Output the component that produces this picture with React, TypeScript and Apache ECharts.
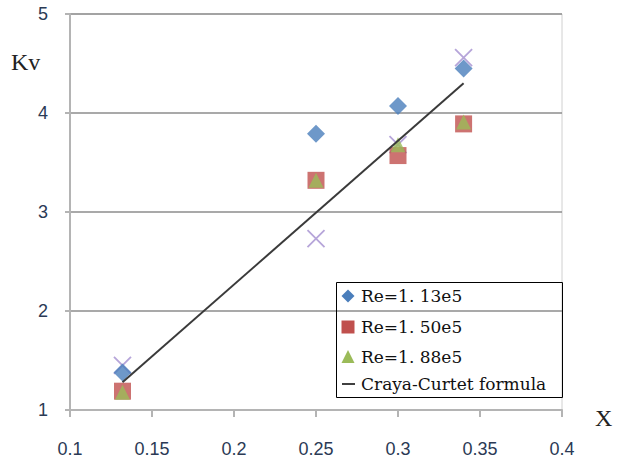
import React, { useEffect, useRef } from "react";
import * as echarts from "echarts";

const xTicks = [0.1, 0.15, 0.2, 0.25, 0.3, 0.35, 0.4];
const yTicks = [1, 2, 3, 4, 5];

const xValues = [0.132, 0.25, 0.3, 0.34];
const re113 = [1.38, 3.79, 4.07, 4.45];
const re150 = [1.19, 3.32, 3.57, 3.89];
const re188 = [1.18, 3.32, 3.68, 3.91];
const extra = [1.45, 2.73, 3.68, 4.56];
const formulaX = [0.132, 0.34];
const formulaY = [1.28, 4.3];

const names = ["Re=1. 13e5", "Re=1. 50e5", "Re=1. 88e5", "Craya-Curtet formula"];
const colors = ["#4a7ebb", "#c0504d", "#9bbb59", "#000000"];

const pair = (xs: number[], ys: number[]) => xs.map((x, i) => [x, ys[i]]);

export default function App() {
  const ref = useRef<HTMLDivElement>(null);
  useEffect(() => {
    if (!ref.current) return;
    const chart = echarts.init(ref.current, undefined, { renderer: "svg" });
    const serif = "Liberation Serif";
    const legendFont = "DejaVu Serif";
    const sans = "Liberation Sans";

    // legend drawn as graphic elements
    const lx = 348; // icon centre x
    const tx = 361; // text left
    const rowY = [296, 327, 357, 384];
    const legendGraphic: any[] = [
      {
        type: "rect",
        shape: { x: 336.5, y: 282.5, width: 226, height: 115 },
        style: { fill: "none", stroke: "#000", lineWidth: 1 },
        z: 100,
      },
      {
        type: "polygon",
        shape: { points: [[lx, rowY[0] - 6.5], [lx + 6.5, rowY[0]], [lx, rowY[0] + 6.5], [lx - 6.5, rowY[0]]] },
        style: { fill: colors[0] },
        z: 100,
      },
      {
        type: "rect",
        shape: { x: lx - 6.5, y: rowY[1] - 6.5, width: 13, height: 13 },
        style: { fill: colors[1] },
        z: 100,
      },
      {
        type: "polygon",
        shape: { points: [[lx, rowY[2] - 7], [lx + 6.5, rowY[2] + 6], [lx - 6.5, rowY[2] + 6]] },
        style: { fill: colors[2] },
        z: 100,
      },
      {
        type: "line",
        shape: { x1: lx - 6, y1: rowY[3], x2: lx + 7, y2: rowY[3] },
        style: { stroke: colors[3], lineWidth: 1.5 },
        z: 100,
      },
      ...names.map((n, i) => ({
        type: "text",
        x: tx,
        y: rowY[i],
        style: {
          text: n,
          fontFamily: legendFont,
          fontSize: 17,
          fill: "#111",
          verticalAlign: "middle",
        },
        z: 100,
      })),
    ];

    chart.setOption({
      animation: false,
      backgroundColor: "#ffffff",
      legend: { show: false },
      grid: {
        left: 70,
        right: 55,
        top: 14,
        bottom: 50,
        show: true,
        borderColor: "#d0d0d0",
        borderWidth: 1,
      },
      xAxis: {
        type: "value",
        min: xTicks[0],
        max: xTicks[xTicks.length - 1],
        interval: 0.05,
        axisLine: { show: true, lineStyle: { color: "#b4b4b4", width: 2 } },
        axisTick: { show: true, length: 7, lineStyle: { color: "#b4b4b4", width: 2 } },
        splitLine: { show: false },
        axisLabel: {
          margin: 30,
          fontSize: 18,
          color: "#2b3a55",
          fontFamily: sans,
          formatter: (v: number) => String(Number(v.toFixed(2))),
        },
      },
      yAxis: {
        type: "value",
        min: yTicks[0],
        max: yTicks[yTicks.length - 1],
        interval: 1,
        axisLine: { show: true, lineStyle: { color: "#b4b4b4", width: 2 } },
        axisTick: { show: true, length: 5, lineStyle: { color: "#b4b4b4", width: 2 } },
        splitLine: { show: true, lineStyle: { color: "#8c8c8c", width: 1.5 } },
        axisLabel: {
          margin: 22,
          fontSize: 18,
          color: "#2b3a55",
          fontFamily: sans,
        },
      },
      graphic: [
        {
          type: "text",
          left: 11,
          top: 50,
          style: { text: "Kv", fontFamily: serif, fontSize: 24, fill: "#222" },
        },
        {
          type: "text",
          left: 595,
          top: 406,
          style: { text: "X", fontFamily: serif, fontSize: 24, fill: "#222" },
        },
        ...legendGraphic,
      ],
      series: [
        {
          name: "extra",
          type: "scatter",
          symbol: "path://M0,0L10,10M10,0L0,10",
          symbolSize: 17,
          itemStyle: { color: "rgba(0,0,0,0)", borderColor: "#a48fd0", borderWidth: 1.8 },
          data: pair(xValues, extra),
          z: 1,
        },
        {
          name: names[0],
          type: "scatter",
          symbol: "diamond",
          symbolSize: 18,
          itemStyle: { color: colors[0] },
          data: pair(xValues, re113),
          z: 2,
        },
        {
          name: names[1],
          type: "scatter",
          symbol: "rect",
          symbolSize: 17,
          itemStyle: { color: colors[1] },
          data: pair(xValues, re150),
          z: 3,
        },
        {
          name: names[2],
          type: "scatter",
          symbol: "triangle",
          symbolSize: [15, 15],
          itemStyle: { color: colors[2] },
          data: pair(xValues, re188),
          z: 4,
        },
        {
          name: names[3],
          type: "line",
          showSymbol: false,
          symbol: "none",
          lineStyle: { color: "#3a3a3a", width: 2 },
          itemStyle: { color: "#000000" },
          data: pair(formulaX, formulaY),
          z: 5,
        },
      ],
    });
    return () => chart.dispose();
  }, []);
  return (
    <div
      ref={ref}
      style={{ position: "absolute", left: 0, top: 0, width: 617, height: 460 }}
    />
  );
}
